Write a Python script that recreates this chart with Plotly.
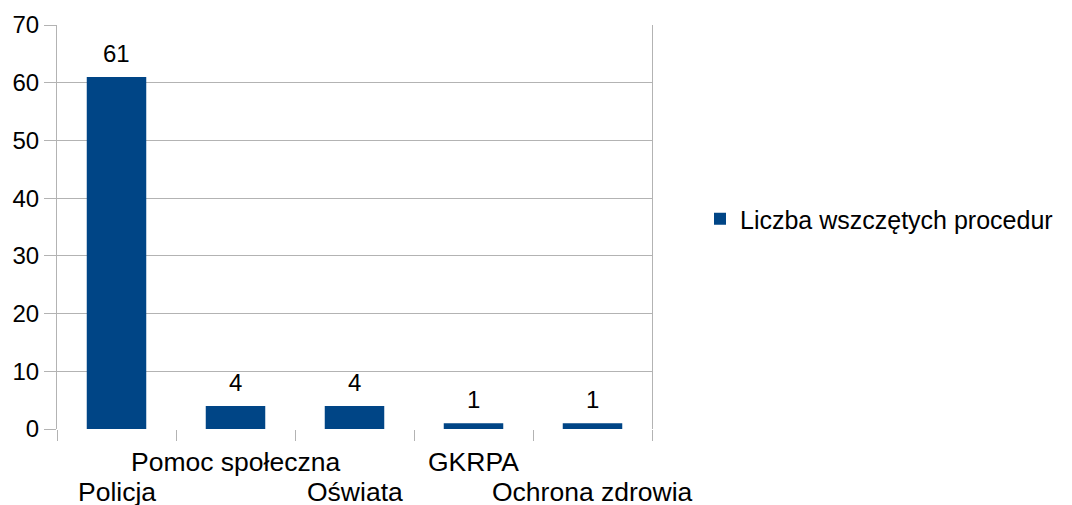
import plotly.graph_objects as go

categories = ["Policja", "Pomoc społeczna", "Oświata", "GKRPA", "Ochrona zdrowia"]
values = [61, 4, 4, 1, 1]
series_name = "Liczba wszczętych procedur"
y_ticks = [0, 10, 20, 30, 40, 50, 60, 70]

# page body adds an 8px offset; size the figure to fill the rest of the window
W, H = 1064, 497
L, R, T, B = 49, 420, 17, 76
plot_h = H - T - B
plot_w = W - L - R
FONT = "Liberation Sans, Arial, sans-serif"
GRID = "#b3b3b3"
BAR = "#004586"

fig = go.Figure()
fig.add_trace(go.Bar(
    x=list(range(len(categories))), y=values, name=series_name,
    marker=dict(color=BAR, line=dict(width=0)),
    width=0.5, showlegend=True, hoverinfo="x+y",
))

# data labels
for i, v in enumerate(values):
    fig.add_annotation(x=i, xref="x", y=v, yref="y", text=str(v), showarrow=False,
                       xanchor="center", yanchor="bottom", yshift=8,
                       font=dict(family=FONT, size=24, color="#000000"))

# staggered category labels (offsets below the plot bottom, in px)
for i, c in enumerate(categories):
    dy = 33 if i % 2 == 1 else 63
    fig.add_annotation(x=i, xref="x", y=-dy / plot_h, yref="paper",
                       text=c, showarrow=False, xanchor="center", yanchor="middle",
                       font=dict(family=FONT, size=26.5, color="#000000"))

fig.update_layout(
    width=W, height=H,
    margin=dict(l=L, r=R, t=T, b=B, pad=0, autoexpand=False),
    paper_bgcolor="white", plot_bgcolor="white",
    font=dict(family=FONT, size=24, color="#000000"),
    showlegend=True,
    legend=dict(x=(700 - 57) / plot_w, xanchor="left", y=(429 - 219) / plot_h, yanchor="middle",
                font=dict(family=FONT, size=25, color="#000000"),
                bgcolor="rgba(0,0,0,0)", itemwidth=30),
    xaxis=dict(range=[-0.5, len(categories) - 0.5],
               tickvals=[i - 0.5 for i in range(len(categories) + 1)],
               ticktext=["" for _ in range(len(categories) + 1)],
               ticks="outside", ticklen=11, tickcolor=GRID, tickwidth=1,
               showgrid=False, zeroline=False, showline=False, fixedrange=True,
               automargin=False),
    yaxis=dict(range=[0, 70], tickvals=y_ticks, ticktext=[str(v) for v in y_ticks],
               ticks="outside", ticklen=12, tickcolor=GRID, tickwidth=1,
               showgrid=True, gridcolor=GRID, gridwidth=1,
               showline=True, linecolor=GRID, linewidth=1, mirror=True,
               zeroline=False, tickfont=dict(family=FONT, size=24), fixedrange=True,
               automargin=False),
    bargap=0.5,
)

fig.write_html("out.html")
